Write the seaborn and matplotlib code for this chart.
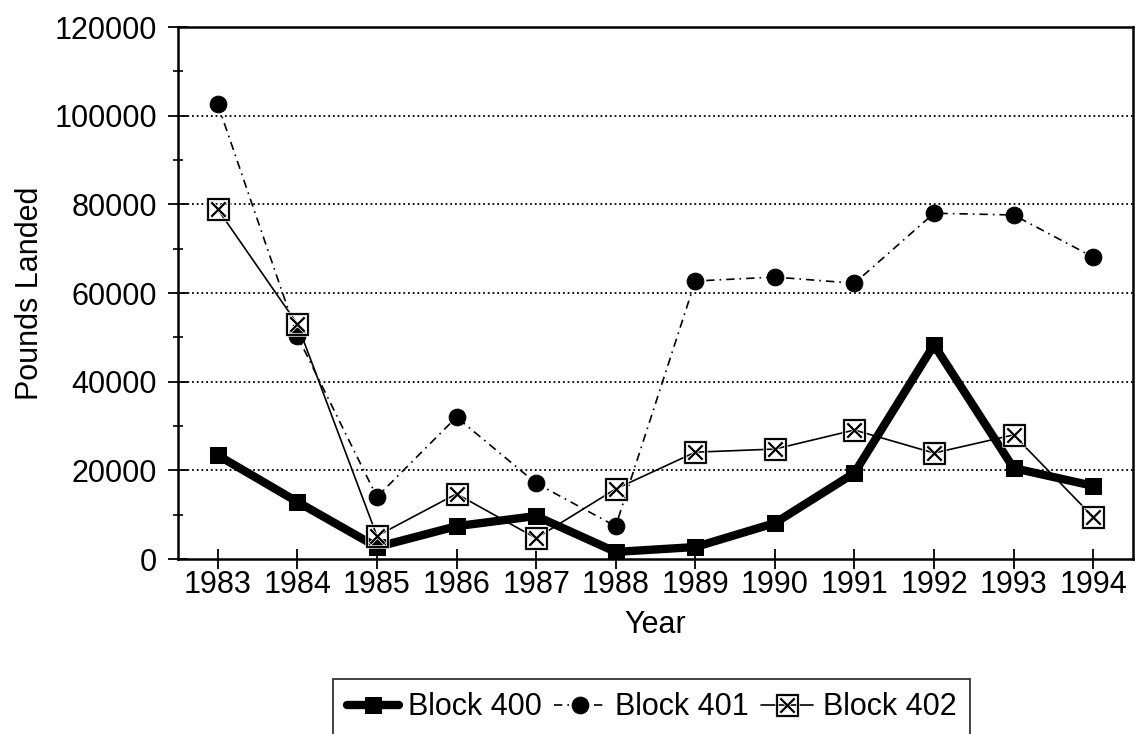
import matplotlib
matplotlib.use("Agg")
import matplotlib.pyplot as plt
from matplotlib.ticker import MultipleLocator
import pandas as pd
import seaborn as sns

years = [1983, 1984, 1985, 1986, 1987, 1988, 1989, 1990, 1991, 1992, 1993, 1994]
block_400 = [23400, 12900, 2700, 7400, 9700, 1600, 2700, 8100, 19400, 48300, 20500, 16500]
block_401 = [102600, 50300, 14000, 32000, 17100, 7400, 62700, 63600, 62200, 78000, 77600, 68100]
block_402 = [78900, 53000, 5200, 14700, 4700, 15800, 24100, 24800, 29100, 23900, 28000, 9500]

df = pd.DataFrame({"Year": years, "Block 400": block_400,
                   "Block 401": block_401, "Block 402": block_402})

sns.set_theme(style="white")
plt.rcParams["font.family"] = ["Liberation Sans", "DejaVu Sans"]
plt.rcParams["text.color"] = "black"
plt.rcParams["axes.labelcolor"] = "black"
plt.rcParams["xtick.color"] = "black"
plt.rcParams["ytick.color"] = "black"

fig = plt.figure(figsize=(11.35, 7.34), dpi=100)
ax = fig.add_axes([0.1568, 0.2384, 0.8414, 0.7248])

# dotted horizontal grid at the major ticks
for y in range(20000, 120001, 20000):
    ax.axhline(y, color="black", lw=1.3, ls=(0, (1, 1.6)), zorder=0)

sns.lineplot(data=df, x="Year", y="Block 400", ax=ax, color="black", lw=6,
             marker="s", markersize=12, markeredgecolor="black", label="Block 400")
sns.lineplot(data=df, x="Year", y="Block 401", ax=ax, color="black", lw=1.2,
             ls=(0, (5, 3, 1, 3)), marker="o", markersize=12,
             markeredgecolor="black", label="Block 401")
sns.lineplot(data=df, x="Year", y="Block 402", ax=ax, color="black", lw=1.2,
             marker="$\\boxtimes$", markersize=17, markeredgewidth=0.5,
             label="Block 402")

ax.set_xlim(1982.5, 1994.5)
ax.set_ylim(0, 120000)
ax.set_xticks(years)
ax.yaxis.set_major_locator(MultipleLocator(20000))
ax.yaxis.set_minor_locator(MultipleLocator(10000))
ax.tick_params(axis="both", which="major", labelsize=22, length=14, width=1.3,
               direction="inout", left=True, bottom=True)
ax.tick_params(axis="x", which="major", pad=1)
ax.tick_params(axis="y", which="major", pad=8)
ax.tick_params(axis="y", which="minor", length=7, width=1.2,
               direction="inout", left=True)
ax.set_xlabel("Year", fontsize=22, labelpad=7)
ax.set_ylabel("Pounds Landed", fontsize=22, labelpad=7)
for s in ax.spines.values():
    s.set_color("black")
    s.set_linewidth(1.8)

ax.legend(loc="upper center", bbox_to_anchor=(0.496, -0.225), ncol=3,
          fontsize=22, frameon=True, fancybox=False, edgecolor="black",
          handlelength=1.7, handletextpad=0.3, columnspacing=0.4,
          borderpad=0.45, borderaxespad=0)
ax.get_legend().get_frame().set_linewidth(1.3)

fig.savefig("out.png", dpi=100)
